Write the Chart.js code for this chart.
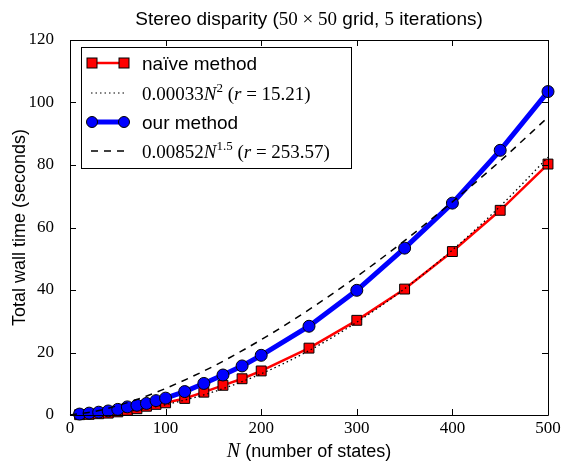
<!DOCTYPE html>
<html>
<head>
<meta charset="utf-8">
<script src="https://cdn.jsdelivr.net/npm/chart.js@4.4.1/dist/chart.umd.min.js"></script>
<style>
  html, body { margin: 0; padding: 0; background: #fff; }
  #wrap { width: 563px; height: 462px; }
</style>
</head>
<body>
<div id="wrap"><canvas id="chart" width="563" height="462"></canvas></div>
<script>
// measured run times
const nValues = [10, 20, 30, 40, 50, 60, 70, 80, 90, 100, 120, 140, 160, 180, 200, 250, 300, 350, 400, 450, 500];
const naiveTimes = [0.1, 0.2, 0.4, 0.6, 1.0, 1.5, 2.0, 2.8, 3.4, 3.9, 5.3, 7.3, 9.5, 11.6, 14.1, 21.4, 30.3, 40.3, 52.3, 65.5, 80.3];
const ourTimes = [0.3, 0.6, 0.9, 1.3, 1.8, 2.6, 3.1, 3.7, 4.6, 5.4, 7.5, 10.1, 12.8, 15.7, 19.1, 28.4, 39.9, 53.4, 67.8, 84.7, 103.5];

// fitted curves
const fitN = [0, 25, 50, 75, 100, 150, 200, 250, 300, 350, 400, 450, 500];
const naiveFit = [0, 0.2, 0.8, 1.9, 3.3, 7.4, 13.2, 20.6, 29.7, 40.4, 52.8, 66.8, 82.5];
const ourFit = [0, 1.1, 3.0, 5.5, 8.5, 15.6, 24.1, 33.7, 44.3, 55.8, 68.2, 81.3, 95.3];

const xTicks = [0, 100, 200, 300, 400, 500];
const yTicks = [0, 20, 40, 60, 80, 100, 120];

const SANS = '"Liberation Sans", Arial, sans-serif';
const SERIF = '"Liberation Serif", "DejaVu Serif", serif';

const pts = (xs, ys) => xs.map((x, i) => ({ x: x, y: ys[i] }));

// draws a row of text pieces with different fonts
function drawRuns(ctx, x, y, runs, align) {
    ctx.save();
    ctx.textBaseline = 'alphabetic';
    ctx.textAlign = 'left';
    let total = 0;
    runs.forEach(r => { ctx.font = r.f; total += ctx.measureText(r.t).width; });
    let cx = align === 'center' ? x - total / 2 : x;
    runs.forEach(r => {
        ctx.font = r.f;
        ctx.fillText(r.t, cx, y + (r.dy || 0));
        cx += ctx.measureText(r.t).width;
    });
    ctx.restore();
}

const framePlugin = {
    id: 'frame',
    afterDatasetsDraw(chart) {
        const ctx = chart.ctx;
        const a = chart.chartArea;
        const xs = chart.scales.x, ys = chart.scales.y;
        ctx.save();
        ctx.strokeStyle = '#000';
        ctx.lineWidth = 1;
        ctx.beginPath();
        ctx.rect(Math.round(a.left) + 0.5, Math.round(a.top) + 0.5, Math.round(a.width), Math.round(a.height));
        ctx.stroke();
        ctx.beginPath();
        xTicks.forEach(v => {
            const px = Math.round(xs.getPixelForValue(v)) + 0.5;
            ctx.moveTo(px, a.bottom); ctx.lineTo(px, a.bottom - 6);
            ctx.moveTo(px, a.top); ctx.lineTo(px, a.top + 6);
        });
        yTicks.forEach(v => {
            const py = Math.round(ys.getPixelForValue(v)) + 0.5;
            ctx.moveTo(a.left, py); ctx.lineTo(a.left + 6, py);
            ctx.moveTo(a.right, py); ctx.lineTo(a.right - 6, py);
        });
        ctx.stroke();
        ctx.restore();
    },
    afterDraw(chart) {
        const ctx = chart.ctx;
        const a = chart.chartArea;
        ctx.save();
        ctx.fillStyle = '#000';

        // title
        drawRuns(ctx, (a.left + a.right) / 2, 25, [
            { t: 'Stereo disparity (', f: '19px ' + SANS },
            { t: '50 \u00d7 50', f: '19px ' + SERIF },
            { t: ' grid, ', f: '19px ' + SANS },
            { t: '5', f: '19px ' + SERIF },
            { t: ' iterations)', f: '19px ' + SANS }
        ], 'center');

        // x axis title
        drawRuns(ctx, (a.left + a.right) / 2, 457, [
            { t: 'N', f: 'italic 20px ' + SERIF },
            { t: ' (number of states)', f: '18px ' + SANS }
        ], 'center');

        // y axis title
        ctx.save();
        ctx.translate(25, (a.top + a.bottom) / 2);
        ctx.rotate(-Math.PI / 2);
        ctx.font = '18px ' + SANS;
        ctx.textAlign = 'center';
        ctx.fillText('Total wall time (seconds)', 0, 0);
        ctx.restore();

        // legend
        const lx = 81, ly = 47, lw = 270, lh = 121;
        ctx.fillStyle = '#fff';
        ctx.fillRect(lx, ly, lw, lh);
        ctx.strokeStyle = '#000';
        ctx.lineWidth = 1;
        ctx.strokeRect(lx + 0.5, ly + 0.5, lw, lh);

        const rows = [63, 93, 122, 151];
        const x0 = 92, x1 = 124, tx = 142;
        // naive
        ctx.strokeStyle = '#ff0000'; ctx.lineWidth = 2.5;
        ctx.beginPath(); ctx.moveTo(x0, rows[0]); ctx.lineTo(x1, rows[0]); ctx.stroke();
        ctx.fillStyle = '#ff0000'; ctx.strokeStyle = '#000'; ctx.lineWidth = 1;
        [x0, x1].forEach(px => { ctx.fillRect(px - 5, rows[0] - 5, 10, 10); ctx.strokeRect(px - 5, rows[0] - 5, 10, 10); });
        // dotted
        ctx.strokeStyle = '#000'; ctx.lineWidth = 1.2; ctx.setLineDash([1.5, 3]);
        ctx.beginPath(); ctx.moveTo(x0 - 1, rows[1]); ctx.lineTo(x1 + 1, rows[1]); ctx.stroke();
        // ours
        ctx.setLineDash([]);
        ctx.strokeStyle = '#0000ff'; ctx.lineWidth = 5;
        ctx.beginPath(); ctx.moveTo(x0, rows[2]); ctx.lineTo(x1, rows[2]); ctx.stroke();
        ctx.fillStyle = '#0000ff'; ctx.strokeStyle = '#000'; ctx.lineWidth = 1;
        [x0, x1].forEach(px => { ctx.beginPath(); ctx.arc(px, rows[2], 5.5, 0, Math.PI * 2); ctx.fill(); ctx.stroke(); });
        // dashed
        ctx.strokeStyle = '#000'; ctx.lineWidth = 1.5; ctx.setLineDash([7, 6]);
        ctx.beginPath(); ctx.moveTo(x0 - 1, rows[3]); ctx.lineTo(x1 + 2, rows[3]); ctx.stroke();
        ctx.setLineDash([]);

        ctx.fillStyle = '#000';
        const s = '19px ' + SANS, m = '19px ' + SERIF, mi = 'italic 19px ' + SERIF, sup = '13px ' + SERIF;
        drawRuns(ctx, tx, rows[0] + 7, [{ t: 'na\u00efve method', f: s }]);
        drawRuns(ctx, tx, rows[1] + 7, [
            { t: '0.00033', f: m }, { t: 'N', f: mi }, { t: '2', f: sup, dy: -8 },
            { t: ' (', f: m }, { t: 'r', f: mi }, { t: ' = 15.21)', f: m }
        ]);
        drawRuns(ctx, tx, rows[2] + 7, [{ t: 'our method', f: s }]);
        drawRuns(ctx, tx, rows[3] + 7, [
            { t: '0.00852', f: m }, { t: 'N', f: mi }, { t: '1.5', f: sup, dy: -8 },
            { t: ' (', f: m }, { t: 'r', f: mi }, { t: ' = 253.57)', f: m }
        ]);
        ctx.restore();
    }
};

new Chart(document.getElementById('chart'), {
    type: 'line',
    data: {
        datasets: [
            {
                label: 'na\u00efve method',
                data: pts(nValues, naiveTimes),
                borderColor: '#ff0000',
                backgroundColor: '#ff0000',
                borderWidth: 2.5,
                pointStyle: 'rect',
                pointRadius: 7,
                pointBorderColor: '#000',
                pointBorderWidth: 1,
                order: 4
            },
            {
                label: '0.00033N^2',
                data: pts(fitN, naiveFit),
                borderColor: '#000',
                borderWidth: 1.3,
                borderDash: [1.5, 3],
                pointRadius: 0,
                cubicInterpolationMode: 'monotone',
                order: 3
            },
            {
                label: 'our method',
                data: pts(nValues, ourTimes),
                borderColor: '#0000ff',
                backgroundColor: '#0000ff',
                borderWidth: 5,
                pointStyle: 'circle',
                pointRadius: 6,
                pointBorderColor: '#000',
                pointBorderWidth: 1,
                order: 2
            },
            {
                label: '0.00852N^1.5',
                data: pts(fitN, ourFit),
                borderColor: '#000',
                borderWidth: 1.5,
                borderDash: [7, 6],
                pointRadius: 0,
                cubicInterpolationMode: 'monotone',
                order: 1
            }
        ]
    },
    options: {
        responsive: false,
        animation: false,
        clip: false,
        layout: { padding: { top: 40, right: 15, left: 0, bottom: 0 } },
        plugins: { legend: { display: false }, tooltip: { enabled: false }, title: { display: false } },
        scales: {
            x: {
                type: 'linear', min: 0, max: 500,
                afterFit: s => { s.height = 47; },
                afterBuildTicks: s => { s.ticks = xTicks.map(v => ({ value: v })); },
                grid: { display: false },
                border: { display: false },
                ticks: { color: '#000', padding: -5, maxRotation: 0, font: { family: SERIF, size: 17 } }
            },
            y: {
                min: 0, max: 120,
                afterFit: s => { s.width = 70; },
                afterBuildTicks: s => { s.ticks = yTicks.map(v => ({ value: v })); },
                grid: { display: false },
                border: { display: false },
                ticks: { color: '#000', padding: 8, font: { family: SERIF, size: 17 } }
            }
        }
    },
    plugins: [framePlugin]
});
</script>
</body>
</html>
